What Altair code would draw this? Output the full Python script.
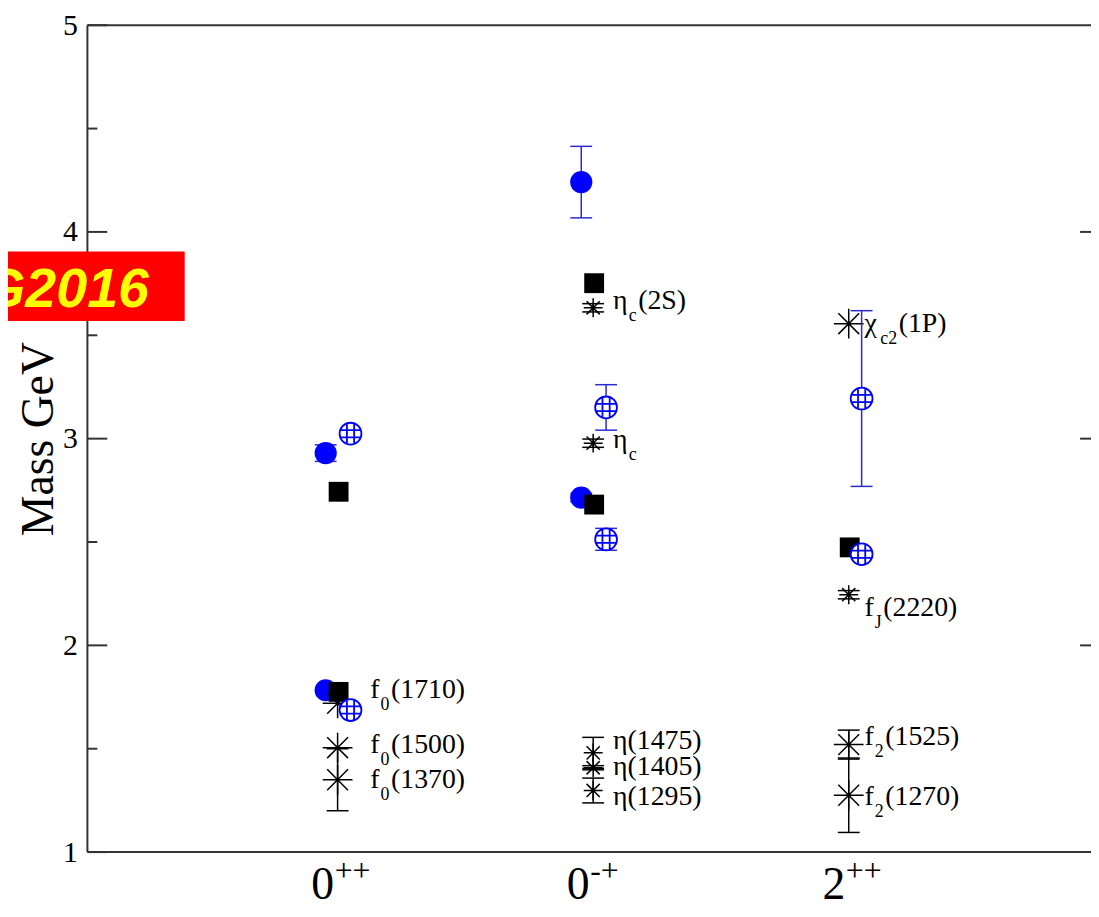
import altair as alt
import pandas as pd

# ---------------- data ----------------
states = ["0++", "0-+", "2++"]
state_base = ["0", "0", "2"]
state_sup = ["++", "-+", "++"]

# lattice result A: filled blue circles
latA_state = ["0++", "0++", "0-+", "0-+"]
latA_mass = [2.93, 1.783, 4.241, 2.715]
latA_err = [0.04, 0.0, 0.173, 0.02]

# lattice result B: hatched blue circles
latB_state = ["0++", "0++", "0-+", "0-+", "2++", "2++"]
latB_mass = [3.024, 1.687, 3.151, 2.513, 3.194, 2.441]
latB_err = [0.0, 0.0, 0.11, 0.053, 0.425, 0.0]

# black squares
sq_state = ["0++", "0++", "0-+", "0-+", "2++"]
sq_mass = [2.743, 1.775, 3.752, 2.681, 2.474]

# experimental states: stars
exp_label = ["f_0(1710)", "f_0(1500)", "f_0(1370)",
             "η_c(2S)", "η_c", "η(1475)", "η(1405)", "η(1295)",
             "χ_c2(1P)", "f_J(2220)", "f_2(1525)", "f_2(1270)"]
exp_state = ["0++"] * 3 + ["0-+"] * 5 + ["2++"] * 4
exp_mass = [1.72, 1.505, 1.35, 3.633, 2.978, 1.48, 1.408, 1.298,
            3.556, 2.245, 1.52, 1.275]
exp_err = [0.0, 0.0, 0.15, 0.02, 0.02, 0.075, 0.01, 0.06,
           0.0, 0.02, 0.07, 0.18]
exp_label_mass = [1.783, 1.519, 1.35, 3.665, 2.993, 1.537, 1.413, 1.265,
                  3.555, 2.181, 1.557, 1.264]

y_major = [1, 2, 3, 4, 5]
y_minor = [1.5, 2.5, 3.5, 4.5]

# ---------------- layout / style ----------------
W, H = 1011, 833
XDOM = [0.021, 3.948]
PX = W / (XDOM[1] - XDOM[0])      # pixels per x unit
POS = {s: i + 1 for i, s in enumerate(states)}

SERIF = "Liberation Serif"
BLUE = "#0000ff"
BAR_BLUE = "#2a2ad0"
LINE = "#333333"
LABEL_FS, SUB_FS = 28, 18
LABEL_DX = {"0++": 33, "0-+": 20, "2++": 16}
BASE_W = {"f": 0.333, "η": 0.53, "χ": 0.53}
SUB_W = {"0": 0.5, "2": 0.5, "c": 0.444, "J": 0.389}
SMALL_STARS = {"η_c(2S)", "η_c", "η(1475)", "η(1405)", "η(1295)", "f_J(2220)"}

STAR = "M-1,0L1,0M0,-1L0,1M-0.7,-0.7L0.7,0.7M-0.7,0.7L0.7,-0.7"
HATCH = ("M1,0A1,1,0,1,1,-1,0A1,1,0,1,1,1,0Z"
         "M-0.33,-0.94L-0.33,0.94M0.33,-0.94L0.33,0.94"
         "M-0.94,-0.33L0.94,-0.33M-0.94,0.33L0.94,0.33")
CAP = "M-1,0L1,0"

YAXIS = alt.Axis(values=y_major, ticks=False, domain=False, grid=False,
                 labelFont=SERIF, labelFontSize=30, labelColor="black",
                 labelPadding=10, labelFlush=False,
                 title="Mass GeV", titleFont=SERIF, titleFontSize=46,
                 titleFontWeight="normal", titleColor="black",
                 titleAngle=270, titleX=-49, titleY=H / 2,
                 titleAlign="center", titleBaseline="middle")


def X(f):
    return alt.X(f, type="quantitative", scale=alt.Scale(domain=XDOM, nice=False, zero=False), axis=None)


def Y(f):
    return alt.Y(f, type="quantitative", scale=alt.Scale(domain=[1, 5], nice=False, zero=False), axis=YAXIS)


def frame(state, mass, err=None, off=0.0):
    err = err if err is not None else [0.0] * len(mass)
    df = pd.DataFrame({"state": state, "m": mass, "e": err})
    df["x"] = df["state"].map(POS) + off / PX
    df["lo"] = df["m"] - df["e"]
    df["hi"] = df["m"] + df["e"]
    return df


def errbars(df, color):
    d = df[df["e"] > 0]
    caps = pd.concat([d.assign(c=d["lo"]), d.assign(c=d["hi"])])
    bar = alt.Chart(d).mark_rule(color=color, strokeWidth=1.5).encode(
        x=X("x"), y=Y("lo"), y2=alt.Y2("hi"))
    cap = alt.Chart(caps).mark_point(shape=CAP, size=484, filled=False, color=color,
                                     strokeWidth=1.5, opacity=1).encode(x=X("x"), y=Y("c"))
    return bar + cap


one = pd.DataFrame({"a": [0]})

# frame lines and inward ticks
borders = alt.layer(
    alt.Chart(one).mark_rule(color=LINE, strokeWidth=2).encode(x=alt.value(0), x2=alt.value(W), y=alt.value(0)),
    alt.Chart(one).mark_rule(color=LINE, strokeWidth=2).encode(x=alt.value(0), x2=alt.value(W), y=alt.value(H)),
    alt.Chart(one).mark_rule(color=LINE, strokeWidth=2).encode(x=alt.value(0), y=alt.value(0), y2=alt.value(H)),
)
major = pd.DataFrame({"v": y_major})
minor = pd.DataFrame({"v": y_minor})
ticks = alt.layer(
    alt.Chart(major).mark_rule(color=LINE, strokeWidth=2).encode(x=alt.value(0), x2=alt.value(20), y=Y("v")),
    alt.Chart(minor).mark_rule(color=LINE, strokeWidth=2).encode(x=alt.value(0), x2=alt.value(10), y=Y("v")),
    alt.Chart(major[major["v"].between(2, 4)]).mark_rule(color=LINE, strokeWidth=2).encode(
        x=alt.value(W - 11), x2=alt.value(W), y=Y("v")),
)

dA = frame(latA_state, latA_mass, latA_err, off=-12)
dB = frame(latB_state, latB_mass, latB_err, off=13)
dS = frame(sq_state, sq_mass, off=1)
dE = frame(exp_state, exp_mass, exp_err, off=0)
dE["label"] = exp_label
dE_small = dE[dE["label"].isin(SMALL_STARS)]
dE_big = dE[~dE["label"].isin(SMALL_STARS)]

circlesA = alt.Chart(dA).mark_point(shape="circle", filled=True, color=BLUE, size=500, opacity=1).encode(
    x=X("x"), y=Y("m"))
stars_big = alt.Chart(dE_big).mark_point(shape=STAR, filled=False, color="black", size=900,
                                         strokeWidth=1.5, opacity=1).encode(x=X("x"), y=Y("m"))
stars_small = alt.Chart(dE_small).mark_point(shape=STAR, filled=False, color="black", size=361,
                                             strokeWidth=1.5, opacity=1).encode(x=X("x"), y=Y("m"))
squares = alt.Chart(dS).mark_square(color="black", size=400, opacity=1).encode(x=X("x"), y=Y("m"))
circlesB = alt.Chart(dB).mark_point(shape=HATCH, fill="white", fillOpacity=1, stroke=BLUE, strokeWidth=1.8,
                                    size=484, opacity=1).encode(x=X("x"), y=Y("m"))

# state labels with subscripts
main_rows, sub_rows, rest_rows = [], [], []
for lab, st, lm in zip(exp_label, exp_state, exp_label_mass):
    lx = LABEL_DX[st]
    x0 = POS[st]
    if "_" in lab:
        base, tail = lab.split("_", 1)
        sub = tail.split("(")[0]
        rest = tail[len(sub):]
        sx = lx + BASE_W[base] * LABEL_FS + 1
        rx = sx + sum(SUB_W[c] for c in sub) * SUB_FS + 1.5
        main_rows.append({"t": base, "x": x0 + lx / PX, "y": lm})
        sub_rows.append({"t": sub, "x": x0 + sx / PX, "y": lm})
        if rest:
            rest_rows.append({"t": rest, "x": x0 + rx / PX, "y": lm})
    else:
        main_rows.append({"t": lab, "x": x0 + lx / PX, "y": lm})

lab_main = alt.Chart(pd.DataFrame(main_rows + rest_rows)).mark_text(
    align="left", baseline="middle", font=SERIF, fontSize=LABEL_FS, color="black").encode(
    x=X("x"), y=Y("y"), text="t:N")
lab_sub = alt.Chart(pd.DataFrame(sub_rows)).mark_text(
    align="left", baseline="middle", dy=15, font=SERIF, fontSize=SUB_FS, color="black").encode(
    x=X("x"), y=Y("y"), text="t:N")

# x-axis category labels J^PC
xl = pd.DataFrame({"x": [POS[s] for s in states], "b": state_base, "s": state_sup})
xlab_base = alt.Chart(xl).mark_text(align="center", baseline="alphabetic", dx=-15, font=SERIF,
                                    fontSize=46, color="black").encode(x=X("x"), y=alt.value(H + 47), text="b:N")
xlab_sup = alt.Chart(xl).mark_text(align="left", baseline="alphabetic", dx=-3, font=SERIF,
                                   fontSize=32, color="black").encode(x=X("x"), y=alt.value(H + 29), text="s:N")

# red tag
tag = pd.DataFrame({"t": ["G2016"]})
tag_box = alt.Chart(tag).mark_rect(color="#ff0000").encode(
    x=alt.value(-88), x2=alt.value(98), y=alt.value(228), y2=alt.value(298))
tag_text = alt.Chart(tag).mark_text(align="right", baseline="middle", font="Liberation Sans", fontSize=56,
                                    fontWeight="bold", fontStyle="italic", color="#ffff00").encode(
    x=alt.value(62), y=alt.value(267), text="t:N")

chart = alt.layer(
    borders, ticks,
    errbars(dA, BAR_BLUE), circlesA,
    errbars(dE, "black"), stars_big, stars_small,
    squares,
    errbars(dB, BAR_BLUE), circlesB,
    lab_main, lab_sub, xlab_base, xlab_sup,
    tag_box, tag_text,
).properties(
    width=W, height=H,
    autosize=alt.AutoSizeParams(type="none"),
    padding={"left": 80, "top": 14, "right": 0, "bottom": 54},
    background="white",
).configure_view(stroke=None)

chart.save("out.html", embed_options={"renderer": "svg", "actions": False})
